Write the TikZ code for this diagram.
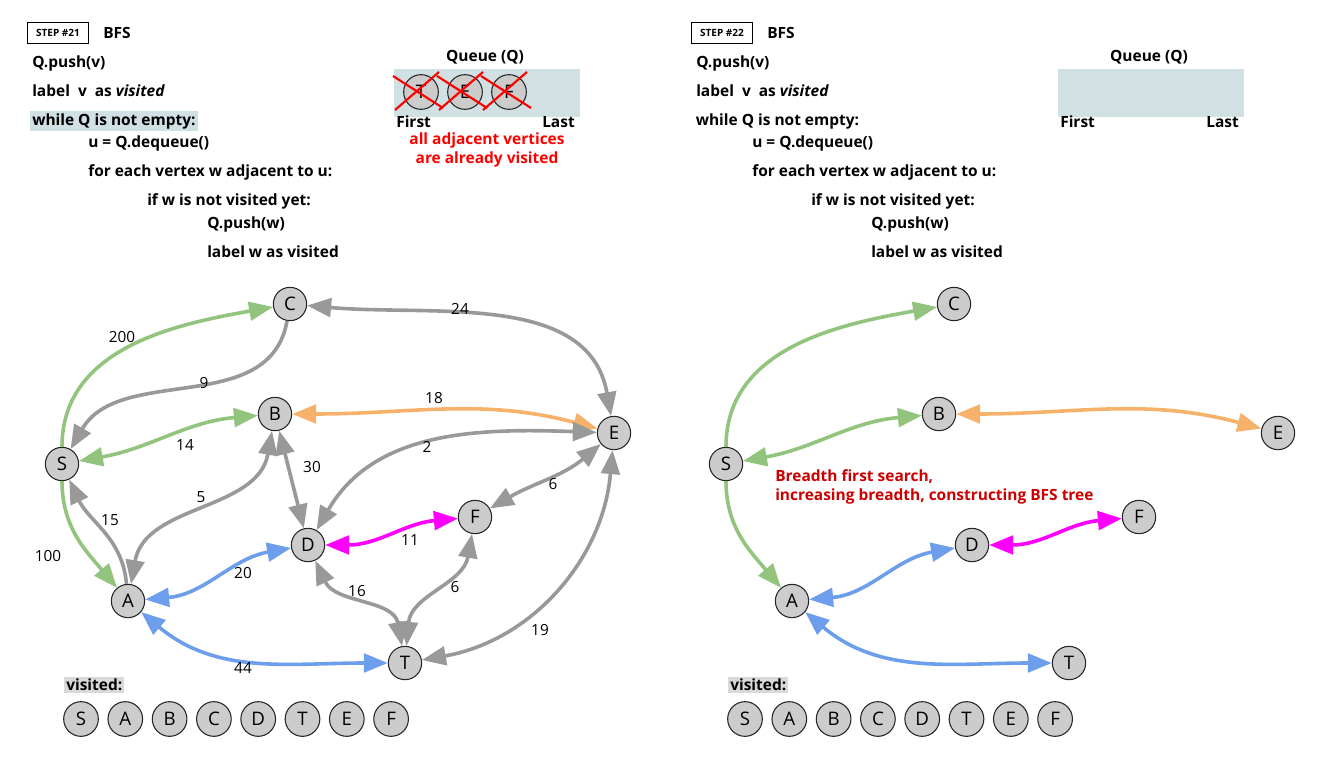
\documentclass[tikz,border=0pt]{standalone}
\usepackage{fontspec}
\setmainfont{Open Sans}
\usetikzlibrary{arrows.meta}

\definecolor{vfill}{HTML}{CCCCCC}
\definecolor{egray}{HTML}{999999}
\definecolor{egreen}{HTML}{93C47D}
\definecolor{eorange}{HTML}{F6B26B}
\definecolor{eblue}{HTML}{6D9EEB}
\definecolor{epink}{HTML}{FF00FF}
\definecolor{qfill}{HTML}{D0E0E3}
\definecolor{vbg}{HTML}{D9D9D9}
\definecolor{darkred}{HTML}{CC0000}

\tikzset{
  vertex/.style={circle, draw=black!85, line width=0.8pt, fill=vfill,
    minimum size=25pt, inner sep=0pt, font=\fontsize{14}{16}\selectfont},
  weight/.style={inner sep=0pt, font=\fontsize{11.5}{13}\selectfont},
  code/.style={anchor=west, inner sep=0pt, font=\fontsize{11.6}{13}\selectfont\bfseries},
  title/.style={inner sep=0pt, font=\fontsize{11.6}{13}\selectfont\bfseries},
  stepbox/.style={draw, line width=0.8pt, minimum width=46pt, minimum height=16pt,
    inner sep=0pt, font=\fontsize{7.5}{9}\selectfont\bfseries},
  qbox/.style={fill=qfill, minimum width=139.5pt, minimum height=36pt, inner sep=0pt},
  cross/.style={red, line width=1.6pt},
  wire/.style={line width=2.7pt},
  grayedge/.style={wire, egray},
  greenedge/.style={wire, egreen},
  orangeedge/.style={wire, eorange},
  blueedge/.style={wire, eblue},
  pinkedge/.style={wire, epink},
  note/.style={inner sep=0pt, align=center, font=\fontsize{11.6}{14.2}\selectfont\bfseries}
}

\begin{document}
\begin{tikzpicture}[x=0.75pt, y=0.75pt, >={Triangle[length=18pt,width=14pt]}]
\useasboundingbox (0,0) rectangle (1321,-767);

% ---- step 21 ----
\node[stepbox] (step21) at (58,-33) {STEP \#21};
\node[title, anchor=west] (bfs21) at (103,-33) {BFS};
\node[code] (push21) at (32,-63) {Q.push(v)};
\node[code] (label21) at (32,-91) {label\ \ v\ \ as \textit{visited}};
\node[code, fill=qfill, inner sep=1.5pt] (while21) at (30,-121) {while Q is not empty:};
\node[code] (deq21) at (88,-143) {u = Q.dequeue()};
\node[code] (for21) at (88,-172) {for each vertex w adjacent to u:};
\node[code] (if21) at (147,-201) {if w is not visited yet:};
\node[code] (pushw21) at (207,-224) {Q.push(w)};
\node[code] (labelw21) at (207,-252) {label w as visited};

\node[qbox] (queue21) at (487,-93) {};
\node[title] (qtitle21) at (485,-57) {Queue (Q)};
\node[code] (first21) at (396,-122) {First};
\node[code, anchor=east] (last21) at (575,-122) {Last};
\foreach \v/\x [count=\i] in {T/421,E/465,F/509} {
  \node[vertex, minimum size=26pt] (q\i) at (\x,-92) {\v};
  \draw[cross] ([shift={(-28,16)}]q\i.center) -- ([shift={(22,-16)}]q\i.center);
  \draw[cross] ([shift={(-26,-18)}]q\i.center) -- ([shift={(18,20)}]q\i.center);
}
\node[note, red] (note21) at (487,-150) {all adjacent vertices\\are already visited};

% graph
\node[vertex] (C) at (290,-304) {C};
\node[vertex] (B) at (275,-414) {B};
\node[vertex] (E) at (614,-433) {E};
\node[vertex] (S) at (62,-464) {S};
\node[vertex] (F) at (475,-517) {F};
\node[vertex] (D) at (308,-545) {D};
\node[vertex] (A) at (128,-601) {A};
\node[vertex] (T) at (405,-663) {T};

\draw[greenedge, ->] (S) to[out=90, in=190] (C);
\draw[grayedge, ->] (C) to[out=-100, in=60] (S);
\draw[greenedge, <->] (S) to[out=10, in=185] (B);
\draw[greenedge, ->] (S) to[out=-90, in=130] (A);
\draw[grayedge, ->] (A) to[out=95, in=-65] (S);
\draw[grayedge, <->] (A) to[out=80, in=-100] (B);
\draw[grayedge, <->] (B) -- (D);
\draw[orangeedge, <->] (B) to[out=0, in=165] (E);
\draw[grayedge, <->] (C) to[out=-5, in=100] (E);
\draw[grayedge, <->] (D) to[out=60, in=178] (E);
\draw[grayedge, <->] (E) to[out=-140, in=30] (F);
\draw[pinkedge, <->] (D) to[out=0, in=185] (F);
\draw[blueedge, <->] (A) to[out=5, in=190] (D);
\draw[grayedge, <->] (D) to[out=-65, in=100] (T);
\draw[grayedge, <->] (F) to[out=-100, in=85] (T);
\draw[grayedge, <->] (E) to[out=-95, in=10] (T);
\draw[blueedge, <->] (A) to[out=-40, in=180] (T);

\node[weight] (wSC) at (122,-337) {200};
\node[weight] (wCS) at (204,-383) {9};
\node[weight] (wSB) at (185,-445) {14};
\node[weight] (wSA) at (48,-556) {100};
\node[weight] (wAS) at (110,-520) {15};
\node[weight] (wAB) at (201,-497) {5};
\node[weight] (wBD) at (312,-467) {30};
\node[weight] (wBE) at (434,-398) {18};
\node[weight] (wCE) at (460,-309) {24};
\node[weight] (wDE) at (427,-447) {2};
\node[weight] (wEF) at (553,-484) {6};
\node[weight] (wDF) at (410,-540) {11};
\node[weight] (wAD) at (243,-573) {20};
\node[weight] (wDT) at (357,-591) {16};
\node[weight] (wFT) at (455,-587) {6};
\node[weight] (wET) at (540,-630) {19};
\node[weight] (wAT) at (243,-668) {44};

\node[code, fill=vbg, inner sep=1.5pt] (vis21) at (64,-685) {visited:};
\foreach \v [count=\i] in {S,A,B,C,D,T,E,F}
  \node[vertex, minimum size=26pt] (v21\i) at (81+44.3*\i-44.3,-719) {\v};

% ---- step 22 ----
\node[stepbox] (step22) at (722,-33) {STEP \#22};
\node[title, anchor=west] (bfs22) at (767,-33) {BFS};
\node[code] (push22) at (696,-63) {Q.push(v)};
\node[code] (label22) at (696,-91) {label\ \ v\ \ as \textit{visited}};
\node[code] (while22) at (695.5,-121) {while Q is not empty:};
\node[code] (deq22) at (752,-143) {u = Q.dequeue()};
\node[code] (for22) at (752,-172) {for each vertex w adjacent to u:};
\node[code] (if22) at (811,-201) {if w is not visited yet:};
\node[code] (pushw22) at (871,-224) {Q.push(w)};
\node[code] (labelw22) at (871,-252) {label w as visited};

\node[qbox] (queue22) at (1151,-93) {};
\node[title] (qtitle22) at (1149,-57) {Queue (Q)};
\node[code] (first22) at (1060,-122) {First};
\node[code, anchor=east] (last22) at (1239,-122) {Last};

\begin{scope}[xshift=498pt, name prefix=r-]
\node[vertex] (C) at (290,-304) {C};
\node[vertex] (B) at (275,-414) {B};
\node[vertex] (E) at (614,-433) {E};
\node[vertex] (S) at (62,-464) {S};
\node[vertex] (F) at (475,-517) {F};
\node[vertex] (D) at (308,-545) {D};
\node[vertex] (A) at (128,-601) {A};
\node[vertex] (T) at (405,-663) {T};

\draw[greenedge, ->] (S) to[out=90, in=190] (C);
\draw[greenedge, <->] (S) to[out=10, in=185] (B);
\draw[greenedge, ->] (S) to[out=-90, in=130] (A);
\draw[orangeedge, <->] (B) to[out=0, in=165] (E);
\draw[pinkedge, <->] (D) to[out=0, in=185] (F);
\draw[blueedge, <->] (A) to[out=5, in=190] (D);
\draw[blueedge, <->] (A) to[out=-40, in=180] (T);

\node[note, darkred, align=left, anchor=north west] (tree) at (111,-469)
  {Breadth first search,\\increasing breadth, constructing BFS tree};
\end{scope}

\node[code, fill=vbg, inner sep=1.5pt] (vis22) at (728,-685) {visited:};
\foreach \v [count=\i] in {S,A,B,C,D,T,E,F}
  \node[vertex, minimum size=26pt] (v22\i) at (745+44.3*\i-44.3,-719) {\v};
\end{tikzpicture}
\end{document}
